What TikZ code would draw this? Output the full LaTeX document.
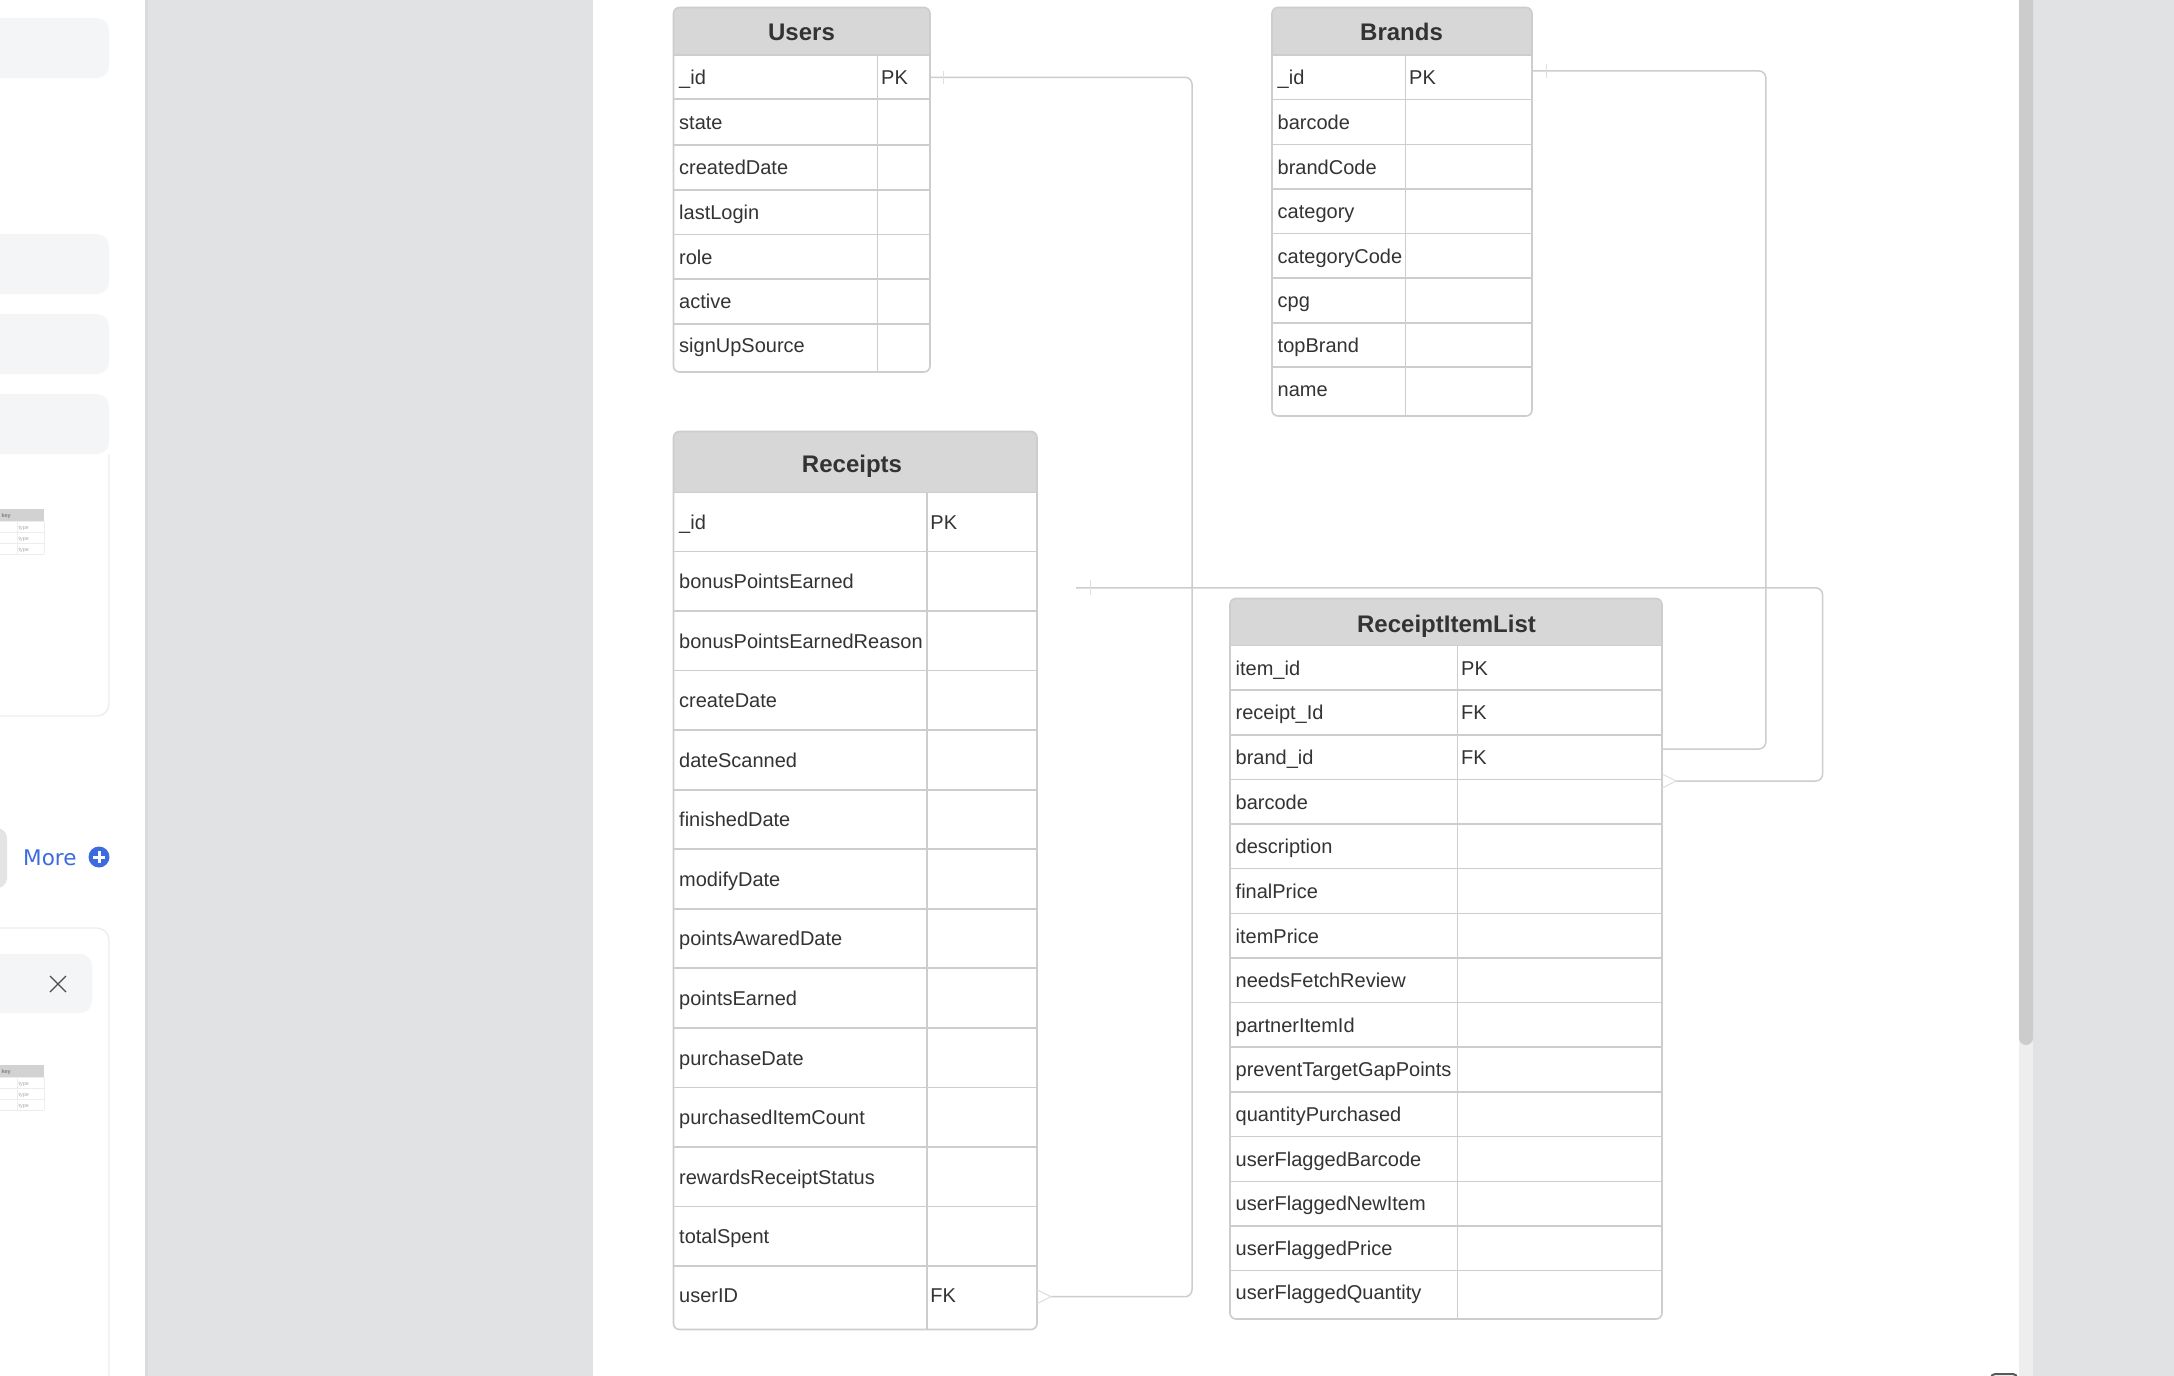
\documentclass[tikz,border=0pt]{standalone}
\usepackage{fontspec}
\setmainfont{Liberation Sans}
\newfontfamily\dejafont{DejaVu Sans}
\definecolor{pagegray}{HTML}{E1E2E4}
\definecolor{pageedge}{HTML}{D9DADC}
\definecolor{softrect}{HTML}{F4F5F7}
\definecolor{cardline}{HTML}{ECEDEE}
\definecolor{gridline}{HTML}{CDCDCD}
\definecolor{headfill}{HTML}{D7D7D7}
\definecolor{inktext}{HTML}{333333}
\definecolor{linkblue}{HTML}{3C6BE0}
\definecolor{thumbhead}{HTML}{D2D2D2}
\definecolor{thumbline}{HTML}{EDEDED}
\definecolor{thumbtext}{HTML}{A8A8A8}
\tikzset{
  x=1pt,y=-1pt,
  softbox/.style={fill=softrect,rounded corners=12pt},
  cardedge/.style={draw=cardline,line width=1.4pt,rounded corners=12pt},
  grid/.style={draw=gridline,line width=1.6pt},
  tablebox/.style={draw=gridline,line width=1.6pt,rounded corners=6pt,anchor=north west,inner sep=0pt,outer sep=0pt},
  fieldtext/.style={anchor=base west,inner sep=0pt,text=inktext,font=\fontsize{20}{24}\selectfont},
  titletext/.style={anchor=base,inner sep=0pt,text=inktext,font=\bfseries\fontsize{#1}{30}\selectfont},
  relation/.style={draw=gridline,line width=1.5pt,rounded corners=7pt},
  endmark/.style={draw=gridline!65,line width=1.1pt},
  thumbbold/.style={anchor=base east,inner sep=0pt,text=gray,font=\bfseries\fontsize{5.5}{6}\selectfont},
  thumbtype/.style={anchor=base west,inner sep=0pt,text=thumbtext,font=\fontsize{5.3}{6}\selectfont},
}
\newcommand{\tablegeom}[6]{\def\tA{#1}\def\tC{#2}\def\tB{#3}\def\tT{#4}\def\tH{#5}\def\tE{#6}}
% name, title, title size, title centre x, title baseline y, rows
\newcommand{\ertable}[6]{%
  \fill[headfill] (\tA,\tH) [rounded corners=6pt] -- (\tA,\tT) -- (\tB,\tT) [sharp corners] -- (\tB,\tH) -- cycle;
  \pgfmathsetmacro{\tW}{\tB-\tA}\pgfmathsetmacro{\tHt}{\tE-\tT}
  \node[tablebox,minimum width=\tW pt,minimum height=\tHt pt] (#1) at (\tA,\tT) {};
  \draw[grid] (\tA,\tH) -- (\tB,\tH);
  \draw[grid] (\tC,\tH) -- (\tC,\tE);
  \node[titletext=#3] (#1-title) at (#4,#5) {#2};
  \foreach \lab/\key/\yend [remember=\yend as \yprev (initially \tH),count=\i] in {#6}{%
    \pgfmathsetmacro{\yb}{(\yprev+\yend)/2+7.3}
    \ifdim\yend pt<\tE pt
      \draw[grid] (\tA,\yend) -- (\tB,\yend);
    \else
      \pgfmathsetmacro{\yb}{\yb-2.4}
    \fi
    \node[fieldtext] (#1-f\i) at (\tA+5.5,\yb) {\lab};
    \edef\tmpk{\key}%
    \ifx\tmpk\empty\else\node[fieldtext] (#1-k\i) at (\tC+3.5,\yb) {\key};\fi
  }%
}
% name, top y of the miniature table
\newcommand{\thumb}[2]{%
  \fill[thumbhead] (-5,#2) rectangle (44,#2+12);
  \foreach \dy in {12,23,34,45}{\draw[thumbline,line width=.8pt] (-5,#2+\dy) -- (44,#2+\dy);}
  \draw[thumbline,line width=.8pt] (17,#2+12) -- (17,#2+45);
  \draw[thumbline,line width=.8pt] (44,#2+12) -- (44,#2+45);
  \node[thumbbold] (#1-key) at (11,#2+8) {key};
  \foreach \dy/\n in {20/a,31/b,42/c}{\node[thumbtype] (#1-type\n) at (18.5,#2+\dy) {type};}
}
\begin{document}
\begin{tikzpicture}
\useasboundingbox (0,0) rectangle (2174,1376);
\clip (0,0) rectangle (2174,1376);
\fill[white] (0,0) rectangle (2174,1376);
% window areas
\fill[pagegray] (145,0) rectangle (593,1376);
\fill[pageedge] (145,0) rectangle (147.5,1376);
\fill[pagegray] (2033,0) rectangle (2174,1376);
\fill[black!6.5] (2019,0) rectangle (2033,1376);
\fill[black!20,rounded corners=7pt] (2019,-20) rectangle (2033,1045);
\draw[black!65,line width=2pt,rounded corners=4pt] (1991,1374) rectangle (2017,1395);
% left panel
\fill[softbox] (-30,18) rectangle (109,78);
\fill[softbox] (-30,234) rectangle (109,294);
\fill[softbox] (-30,314) rectangle (109,374);
\fill[softbox] (-30,394) rectangle (109,454);
\draw[cardedge] (109,454) -- (109,716) -- (-30,716);
\thumb{thumbA}{509}
\fill[black!10.5,rounded corners=10pt] (-30,828) rectangle (7,888);
\node[anchor=base west,inner sep=0pt,text=linkblue,font=\dejafont\fontsize{21.5}{24}\selectfont] (more) at (23,865) {More};
\node[circle,fill=linkblue,minimum size=21pt,inner sep=0pt] (moreicon) at (99,857) {};
\draw[white,line width=3pt] (93,857) -- (105,857) (99,851) -- (99,863);
\draw[cardedge] (-30,928) -- (109,928) -- (109,1420);
\fill[softbox] (-30,954) rectangle (92,1013);
\draw[black!70,line width=1.2pt] (50,976) -- (66,992) (66,976) -- (50,992);
\thumb{thumbB}{1065}
% tables
\tablegeom{673.5}{877.5}{930}{7.5}{55}{372}
\ertable{users}{Users}{24}{801.5}{40.7}{\_id/PK/99,state//145,createdDate//190,lastLogin//234.5,role//279,active//324,signUpSource//372}
\tablegeom{1272}{1405.5}{1532}{7.5}{55}{416}
\ertable{brands}{Brands}{24}{1401.5}{40.7}{\_id/PK/99.5,barcode//144.5,brandCode//189,category//233.5,categoryCode//278,cpg//323,topBrand//367,name//416}
\tablegeom{673.5}{926.7}{1037}{431.5}{492.5}{1329.5}
\ertable{receipts}{Receipts}{24}{852}{472}{\_id/PK/551.5,bonusPointsEarned//611,bonusPointsEarnedReason//670.5,createDate//730,dateScanned//790,finishedDate//849,modifyDate//909,pointsAwaredDate//968,pointsEarned//1028,purchaseDate//1087.5,purchasedItemCount//1147,rewardsReceiptStatus//1206.5,totalSpent//1266,userID/FK/1329.5}
\tablegeom{1230}{1457.5}{1662}{598.5}{645.5}{1319}
\ertable{items}{ReceiptItemList}{24}{1446.5}{632.2}{item\_id/PK/690,receipt\_Id/FK/734.7,brand\_id/FK/779.6,barcode//824,description//868.3,finalPrice//913.5,itemPrice//958,needsFetchReview//1002.5,partnerItemId//1047,preventTargetGapPoints//1092,quantityPurchased//1136.5,userFlaggedBarcode//1181.3,userFlaggedNewItem//1226,userFlaggedPrice//1270.6,userFlaggedQuantity//1319}
% connectors
\coordinate (usersBend) at (1192,77.3);
\coordinate (receiptsCrow) at (1051,1296.7);
\draw[relation] (users.east |- usersBend) -- (usersBend) -- (usersBend |- receiptsCrow) -- (receiptsCrow);
\draw[endmark] (943.8,70.5) -- (943.8,84);
\draw[endmark] (1037,1289.7) -- (receiptsCrow) -- (1037,1303.7);
\coordinate (brandsBend) at (1765.8,70.9);
\coordinate (itemsIn) at (1765.8,749);
\draw[relation] (brands.east |- brandsBend) -- (brandsBend) -- (itemsIn) -- (items.east |- itemsIn);
\draw[endmark] (1546.6,64) -- (1546.6,78);
\coordinate (receiptsOut) at (1076,587.8);
\coordinate (recBend) at (1822.6,587.8);
\coordinate (itemsCrow) at (1676,781);
\draw[relation] (receiptsOut) -- (recBend) -- (recBend |- itemsCrow) -- (itemsCrow);
\draw[endmark] (1090.7,580) -- (1090.7,595);
\draw[endmark] (1662,774) -- (itemsCrow) -- (1662,788);
\end{tikzpicture}
\end{document}
